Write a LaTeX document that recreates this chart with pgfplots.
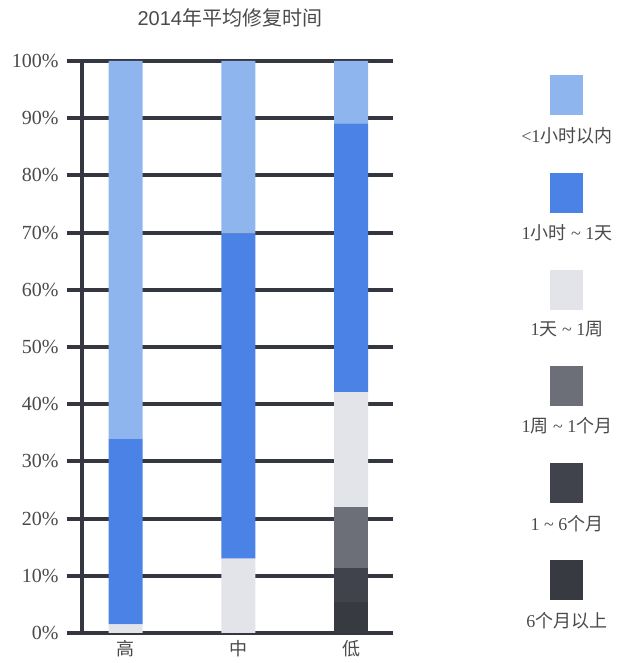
\documentclass[border=0pt]{standalone}
\usepackage{pgfplots}
\pgfplotsset{compat=1.18}
\usepackage{fontspec}
\setmainfont{Liberation Serif}
\newfontfamily\cjk{Noto Sans CJK SC}
\newfontfamily\titlefont{Liberation Sans}
\definecolor{cA}{HTML}{8FB5EF}
\definecolor{cB}{HTML}{4A82E6}
\definecolor{cC}{HTML}{E3E4E9}
\definecolor{cD}{HTML}{6C6F77}
\definecolor{cE}{HTML}{40434B}
\definecolor{cF}{HTML}{373A41}
\definecolor{gridc}{HTML}{34373F}
\definecolor{txt}{HTML}{4A4A4A}
\begin{document}
\begin{tikzpicture}
\begin{axis}[
  name=ax,
  scale only axis,
  width=163.15pt, height=286pt,
  xmin=-0.5215, xmax=2.372,
  ymin=0, ymax=100,
  ybar stacked,
  bar width=17pt,
  xtick={0,1,2},
  xticklabels={高,中,低},
  x tick label style={font=\cjk\fontsize{9}{10}\selectfont, text=txt},
  ytick={0,10,...,100},
  yticklabel={\pgfmathprintnumber{\tick}\%},
  /pgf/number format/assume math mode=true,
  y tick label style={font=\fontsize{10}{11}\selectfont, text=txt, xshift=-0.5pt},
  major tick length=0pt,
  axis line style={draw=none},
  ymajorgrids,
  major grid style={line width=2pt, color=gridc},
  extra x ticks={-0.388},
  extra x tick labels={},
  extra x tick style={grid=major, major grid style={line width=2pt, color=gridc}},
  title={\titlefont 2014{\cjk 年平均修复时间}},
  title style={at={(0.5,1)}, anchor=center, yshift=15.5pt, font=\fontsize{10}{11}\selectfont, text=txt},
  every axis plot post/.append style={legend image code/.code={}},
  reverse legend,
  legend style={draw=none, fill=none, at={(1.533,0.9825)}, anchor=north, inner sep=0pt,
    row sep=9.5pt, font=\fontsize{9}{10}\selectfont, text=txt},
  legend cell align=center,
]
\addplot[fill=cF, draw=none] coordinates {(0,0) (1,0) (2,5.4)};
\addlegendentry{\shortstack{\textcolor{cF}{\rule{16.5pt}{20pt}}\\[3pt]6{\cjk 个月以上}}}
\addplot[fill=cE, draw=none] coordinates {(0,0) (1,0) (2,6.0)};
\addlegendentry{\shortstack{\textcolor{cE}{\rule{16.5pt}{20pt}}\\[3pt]1 \textasciitilde{} 6{\cjk 个月}}}
\addplot[fill=cD, draw=none] coordinates {(0,0) (1,0) (2,10.6)};
\addlegendentry{\shortstack{\textcolor{cD}{\rule{16.5pt}{20pt}}\\[3pt]1{\cjk 周} \textasciitilde{} 1{\cjk 个月}}}
\addplot[fill=cC, draw=none] coordinates {(0,1.5) (1,13.0) (2,20.1)};
\addlegendentry{\shortstack{\textcolor{cC}{\rule{16.5pt}{20pt}}\\[3pt]1{\cjk 天} \textasciitilde{} 1{\cjk 周}}}
\addplot[fill=cB, draw=none] coordinates {(0,32.5) (1,56.8) (2,47.0)};
\addlegendentry{\shortstack{\textcolor{cB}{\rule{16.5pt}{20pt}}\\[3pt]1{\cjk 小时} \textasciitilde{} 1{\cjk 天}}}
\addplot[fill=cA, draw=none] coordinates {(0,66.0) (1,30.2) (2,10.9)};
\addlegendentry{\shortstack{\textcolor{cA}{\rule{16.5pt}{20pt}}\\[3pt]{<}1{\cjk 小时以内}}}
\end{axis}
\pgfresetboundingbox
\path[use as bounding box] ([xshift=-33.35pt,yshift=-15pt]ax.south west) rectangle ([xshift=278.15pt,yshift=316.5pt]ax.south west);
\end{tikzpicture}
\end{document}
